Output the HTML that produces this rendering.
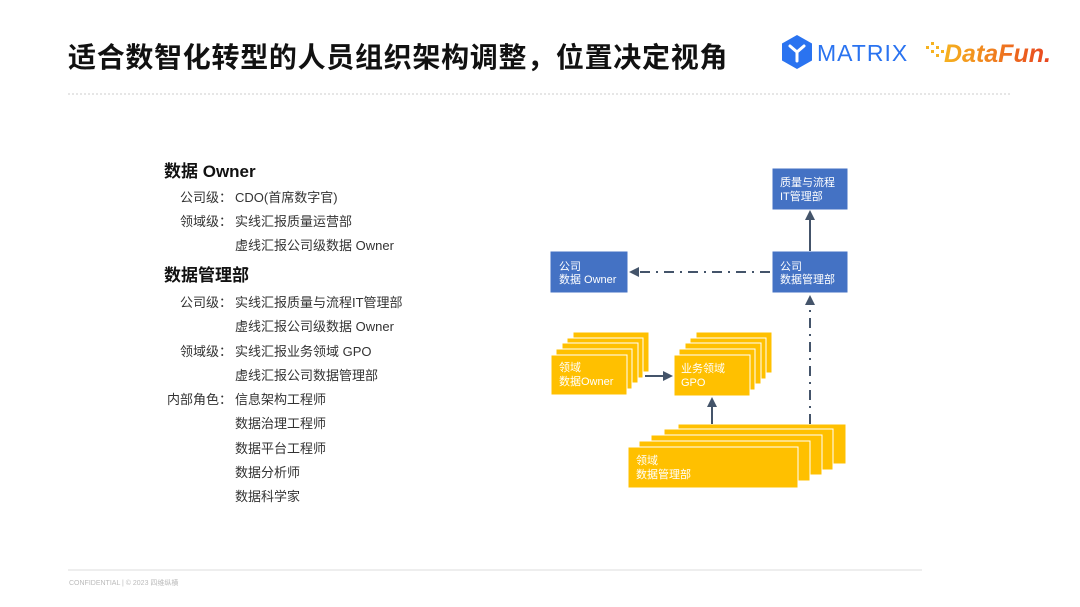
<!DOCTYPE html>
<html><head><meta charset="utf-8"><style>
body{margin:0;width:1080px;height:607px;background:#fff;position:relative;overflow:hidden;font-family:"Liberation Sans","Noto Sans CJK SC",sans-serif;}
.t{position:absolute;white-space:nowrap;}
.title{left:68px;top:36px;font-size:28px;letter-spacing:0.7px;color:#111;font-weight:bold;}
.h{font-size:17px;font-weight:bold;color:#111;left:164px;}
.l{font-size:13px;color:#333;text-align:right;width:80px;left:152px;}
.v{font-size:13px;color:#333;left:235px;}
</style></head><body>
<div class="t title">适合数智化转型的人员组织架构调整，位置决定视角</div>
<svg width="1080" height="607" style="position:absolute;left:0;top:0">
<line x1="68" y1="94" x2="1010" y2="94" stroke="#ccc" stroke-width="1" stroke-dasharray="2,2"/>
<line x1="68" y1="570" x2="922" y2="570" stroke="#ddd" stroke-width="1"/>
<polygon points="797,35 812,43.5 812,60.5 797,69 782,60.5 782,43.5" fill="#2a73f0"/>
<path d="M790,46 L797,52 L804,46 M797,52 L797,61" stroke="#fff" stroke-width="3" fill="none" stroke-linecap="round"/>
<text x="817" y="61" font-family="Liberation Sans" font-size="23" fill="#2a73f0" letter-spacing="1">MATRIX</text>
<g fill="#f6b21f"><rect x="926" y="46" width="3" height="3"/><rect x="931" y="42" width="3" height="3"/><rect x="931" y="50" width="3" height="3"/><rect x="936" y="46" width="3" height="3"/><rect x="936" y="54" width="3" height="3"/><rect x="941" y="50" width="3" height="3"/></g>
<defs><linearGradient id="g" x1="0" x2="1"><stop offset="0" stop-color="#f6b21f"/><stop offset="1" stop-color="#e8431f"/></linearGradient></defs>
<text x="944" y="62" font-family="Liberation Sans" font-style="italic" font-weight="bold" font-size="25" fill="url(#g)">DataFun.</text>
<g fill="#4472c4" stroke="#fff" stroke-width="1">
<rect x="772" y="168" width="76" height="42"/>
<rect x="550" y="251" width="78" height="42"/>
<rect x="772" y="251" width="76" height="42"/>
</g>
<g fill="#fff" font-size="11" font-family="Liberation Sans,Noto Sans CJK SC,sans-serif">
<text x="780" y="186">质量与流程</text><text x="780" y="200">IT管理部</text>
<text x="559" y="270">公司</text><text x="559" y="283">数据 Owner</text>
<text x="780" y="270">公司</text><text x="780" y="283">数据管理部</text>
</g>
<g fill="#ffc000" stroke="#fff" stroke-width="1">
<rect x="573" y="332" width="76" height="40"/><rect x="567" y="338" width="76" height="40"/><rect x="562" y="343" width="76" height="40"/><rect x="556" y="349" width="76" height="40"/><rect x="551" y="355" width="76" height="40"/>
<rect x="696" y="332" width="76" height="41"/><rect x="690" y="338" width="76" height="41"/><rect x="685" y="343" width="76" height="41"/><rect x="679" y="349" width="76" height="41"/><rect x="674" y="355" width="76" height="41"/>
<rect x="678" y="424" width="168" height="40"/><rect x="664" y="429" width="169" height="41"/><rect x="651" y="435" width="171" height="40"/><rect x="639" y="441" width="171" height="40"/><rect x="628" y="447" width="170" height="41"/>
</g>
<g fill="#fff" font-size="11" font-family="Liberation Sans,Noto Sans CJK SC,sans-serif">
<text x="559" y="371">领域</text><text x="559" y="385">数据Owner</text>
<text x="681" y="372">业务领域</text><text x="681" y="386">GPO</text>
<text x="636" y="464">领域</text><text x="636" y="478">数据管理部</text>
</g>
<g stroke="#44546a" stroke-width="2" fill="none">
<line x1="810" y1="251" x2="810" y2="218"/>
<line x1="770" y1="272" x2="638" y2="272" stroke-dasharray="10,6,2,6"/>
<line x1="810" y1="424" x2="810" y2="303" stroke-dasharray="10,6,2,6"/>
<line x1="645" y1="376" x2="665" y2="376"/>
<line x1="712" y1="424" x2="712" y2="405"/>
</g>
<g fill="#44546a">
<polygon points="810,210 805,220 815,220"/>
<polygon points="629,272 639,267 639,277"/>
<polygon points="810,295 805,305 815,305"/>
<polygon points="673,376 663,371 663,381"/>
<polygon points="712,397 707,407 717,407"/>
</g>
<text x="69" y="585" font-size="7" fill="#bbb" font-family="Liberation Sans,Noto Sans CJK SC,sans-serif">CONFIDENTIAL | © 2023 四维纵横</text>
</svg>
<div class="t h" style="top:157px">数据 Owner</div>
<div class="t l" style="top:187px">公司级：</div><div class="t v" style="top:187px">CDO(首席数字官)</div>
<div class="t l" style="top:211px">领域级：</div><div class="t v" style="top:211px">实线汇报质量运营部</div>
<div class="t v" style="top:235px">虚线汇报公司级数据 Owner</div>
<div class="t h" style="top:261px">数据管理部</div>
<div class="t l" style="top:292px">公司级：</div><div class="t v" style="top:292px">实线汇报质量与流程IT管理部</div>
<div class="t v" style="top:316px">虚线汇报公司级数据 Owner</div>
<div class="t l" style="top:341px">领域级：</div><div class="t v" style="top:341px">实线汇报业务领域 GPO</div>
<div class="t v" style="top:365px">虚线汇报公司数据管理部</div>
<div class="t l" style="top:389px">内部角色：</div><div class="t v" style="top:389px">信息架构工程师</div>
<div class="t v" style="top:413px">数据治理工程师</div>
<div class="t v" style="top:438px">数据平台工程师</div>
<div class="t v" style="top:462px">数据分析师</div>
<div class="t v" style="top:486px">数据科学家</div>
</body></html>
